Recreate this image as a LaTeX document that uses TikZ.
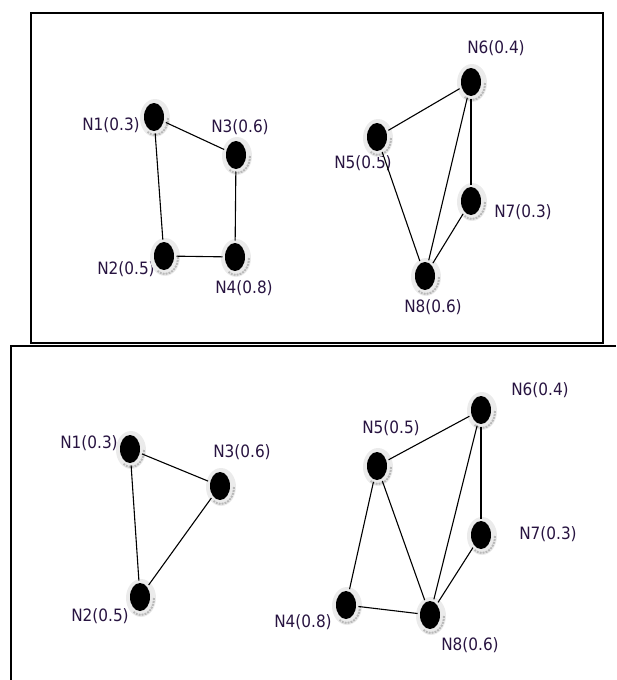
\documentclass[tikz,border=0pt]{standalone}
\usepackage{fontspec}
\setmainfont{DejaVu Sans Condensed}
\usetikzlibrary{shapes.geometric}
\definecolor{lbl}{RGB}{40,20,65}
\tikzset{
 gn/.style={ellipse, fill=black, minimum width=20pt, minimum height=28pt, inner sep=0pt, outer sep=2.5pt},
 lb/.style={text=lbl, font=\fontsize{17}{20}\selectfont, inner sep=0pt},
 edge/.style={line width=1.1pt, black},
 halo/.style={fill=gray!16},
 hatch/.style={draw=gray!55, densely dotted, line width=2pt},
 frame/.style={line width=1.4pt, black}
}
\newcommand\gnd[2]{%
 \fill[halo] (#2) ++(1,1) ellipse [x radius=15, y radius=19];
 \draw[hatch] (#2) ++(1,1) ++(0:13) arc[start angle=0,end angle=125,x radius=13,y radius=17];
 \node[gn] (#1) at (#2) {};
}
\begin{document}
\begin{tikzpicture}[x=1pt,y=-1pt]
\useasboundingbox (0,0) rectangle (616,680);
% frames
\draw[frame] (31,13) rectangle (603,343);
\draw[frame] (616,346) -- (11,346) -- (11,680);
% top labels
\node[lb] (tl1) at (111,125) {N1(0.3)};
\node[lb] (tl3) at (240,127) {N3(0.6)};
\node[lb] (tl2) at (126,269) {N2(0.5)};
\node[lb] (tl4) at (244,288) {N4(0.8)};
\node[lb] (tl5) at (363,163) {N5(0.5)};
\node[lb] (tl6) at (496,48) {N6(0.4)};
\node[lb] (tl7) at (523,212) {N7(0.3)};
\node[lb] (tl8) at (433,307) {N8(0.6)};
% bottom labels
\node[lb] (bl1) at (89,443) {N1(0.3)};
\node[lb] (bl3) at (242,452) {N3(0.6)};
\node[lb] (bl2) at (100,616) {N2(0.5)};
\node[lb] (bl5) at (391,428) {N5(0.5)};
\node[lb] (bl6) at (540,390) {N6(0.4)};
\node[lb] (bl7) at (548,534) {N7(0.3)};
\node[lb] (bl4) at (303,622) {N4(0.8)};
\node[lb] (bl8) at (470,645) {N8(0.6)};
% top nodes
\gnd{t1}{154,117}
\gnd{t3}{236,155}
\gnd{t2}{164,256}
\gnd{t4}{235,257}
\gnd{t5}{377,137}
\gnd{t6}{471,82}
\gnd{t7}{471,201}
\gnd{t8}{425,276}
% bottom nodes
\gnd{b1}{130,449}
\gnd{b3}{220,486}
\gnd{b2}{140,597}
\gnd{b5}{377,466}
\gnd{b6}{481,410}
\gnd{b7}{481,535}
\gnd{b4}{346,605}
\gnd{b8}{430,615}
% top edges
\draw[edge] (t1) -- (t3);
\draw[edge] (t1) -- (t2);
\draw[edge] (t3) -- (t4);
\draw[edge] (t2) -- (t4);
\draw[edge] (t5) -- (t6);
\draw[edge] (t5) -- (t8);
\draw[edge] (t6) -- (t8);
\draw[edge] (t6) -- (t7);
\draw[edge] (t7) -- (t8);
% bottom edges
\draw[edge] (b1) -- (b3);
\draw[edge] (b1) -- (b2);
\draw[edge] (b3) -- (b2);
\draw[edge] (b5) -- (b6);
\draw[edge] (b5) -- (b4);
\draw[edge] (b5) -- (b8);
\draw[edge] (b6) -- (b8);
\draw[edge] (b6) -- (b7);
\draw[edge] (b7) -- (b8);
\draw[edge] (b4) -- (b8);
\end{tikzpicture}
\end{document}
